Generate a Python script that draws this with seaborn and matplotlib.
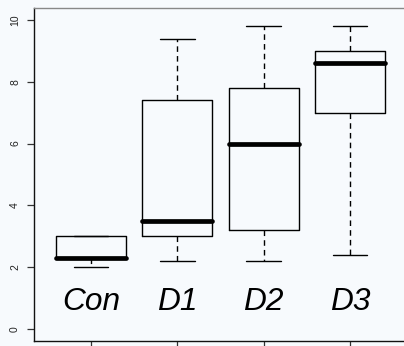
import numpy as np
import pandas as pd
import matplotlib
matplotlib.use("Agg")
import matplotlib.pyplot as plt
import seaborn as sns

categories = ["Con", "D1", "D2", "D3"]
# five-number summaries: min, q1, median, q3, max
con_vals = [2.0, 2.3, 2.3, 3.0, 3.0]
d1_vals = [2.2, 3.0, 3.5, 7.4, 9.4]
d2_vals = [2.2, 3.2, 6.0, 7.8, 9.8]
d3_vals = [2.4, 7.0, 8.6, 9.0, 9.8]
y_ticks = [0, 2, 4, 6, 8, 10]

series = [con_vals, d1_vals, d2_vals, d3_vals]
df = pd.DataFrame({
    "group": [c for c, v in zip(categories, series) for _ in v],
    "value": [x for v in series for x in v],
})

sns.set_style("white")
plt.rcParams['font.family'] = ['Liberation Sans', 'DejaVu Sans']

bg = "#f7fafd"
fig = plt.figure(figsize=(4.04, 3.46), dpi=100, facecolor=bg)
ax = fig.add_axes([34/404, 4.6/346, 373/404, 333.8/346])
ax.set_facecolor(bg)

lw = 1.0
sns.boxplot(
    data=df, x="group", y="value", order=categories, ax=ax,
    fill=False, color="black", linecolor="black", width=0.81,
    whis=(0, 100), showfliers=False, linewidth=lw,
    boxprops=dict(linewidth=lw, color="black"),
    whiskerprops=dict(linewidth=lw, color="black", linestyle=(0, (4, 3))),
    capprops=dict(linewidth=lw, color="black"),
    medianprops=dict(linewidth=3.4, color="black", solid_capstyle="round"),
)

for i, name in enumerate(categories):
    ax.text(i, 0.6, name, ha="center", va="baseline", fontsize=22.8,
            style="italic", color="black")

ax.set_xlim(-0.66, 3.66)
ax.set_ylim(-0.4, 10.4)
ax.set_yticks(y_ticks)
ax.set_yticklabels([str(t) for t in y_ticks], rotation=90, va="center")
ax.set_xticks(range(len(categories)))
ax.set_xticklabels([""] * len(categories))
ax.set_xlabel("")
ax.set_ylabel("")
ax.tick_params(axis="y", direction="out", length=5, width=0.9, color="#333333",
               labelsize=7.5, pad=5, left=True, labelcolor="#222222")
ax.tick_params(axis="x", direction="out", length=5, width=0.9, color="#333333",
               bottom=True)

for s in ["left", "bottom"]:
    ax.spines[s].set_color("#111111")
    ax.spines[s].set_linewidth(1.0)
ax.spines["top"].set_color("#888888")
ax.spines["top"].set_linewidth(1.0)
ax.spines["right"].set_visible(False)

fig.savefig("out.png", dpi=100, facecolor=bg)
